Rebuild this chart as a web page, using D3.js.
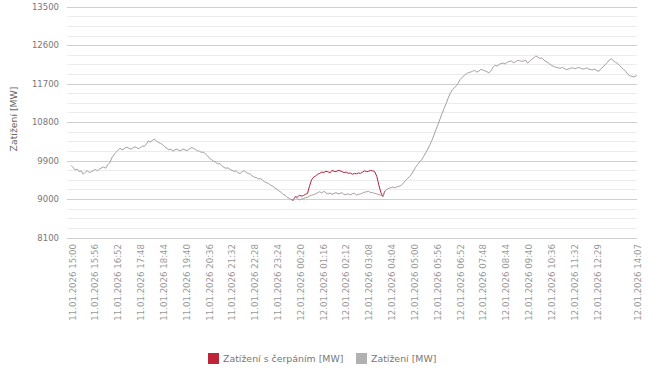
<!DOCTYPE html>
<html>
<head>
<meta charset="utf-8">
<script src="https://cdn.jsdelivr.net/npm/d3@7"></script>
<style>
  html, body { margin: 0; padding: 0; background: #fff; }
  svg { display: block; font-family: "DejaVu Sans", Verdana, sans-serif; }
</style>
</head>
<body>
<svg id="chart" width="654" height="370"></svg>
<script>
// ---- data ----
const startTime = "2026-01-11T15:00";
const endTime = "2026-01-12T14:07";
const sampleStepMin = 5;
// Zatížení [MW], every 5 min from 15:00, last point at 14:07
const loadValues = [
  9790, 9740, 9680, 9700, 9640, 9660, 9580, 9630, 9660, 9620,
  9640, 9670, 9690, 9660, 9700, 9730, 9750, 9720, 9800, 9850,
  9960, 10030, 10090, 10140, 10190, 10150, 10170, 10210, 10200, 10170,
  10180, 10220, 10210, 10180, 10200, 10240, 10230, 10290, 10360, 10330,
  10380, 10400, 10350, 10320, 10300, 10270, 10220, 10190, 10150, 10170,
  10120, 10150, 10170, 10130, 10140, 10170, 10150, 10130, 10170, 10200,
  10190, 10160, 10130, 10120, 10090, 10100, 10050, 10010, 9950, 9920,
  9880, 9860, 9820, 9830, 9780, 9740, 9720, 9730, 9690, 9670,
  9650, 9660, 9610, 9600, 9640, 9660, 9620, 9600, 9580, 9540,
  9510, 9500, 9470, 9480, 9440, 9400, 9380, 9360, 9320, 9300,
  9260, 9230, 9190, 9160, 9110, 9090, 9040, 9020, 8990, 8970,
  9050, 9010, 8980, 9000, 9010, 9030, 9040, 9070, 9090, 9100,
  9120, 9150, 9170, 9140, 9180, 9150, 9120, 9140, 9110, 9130,
  9150, 9120, 9130, 9150, 9100, 9110, 9120, 9100, 9120, 9140,
  9090, 9110, 9120, 9140, 9160, 9170, 9180, 9150, 9150, 9130,
  9120, 9100, 9090, 9060, 9190, 9230, 9250, 9270, 9280, 9260,
  9290, 9300, 9320, 9370, 9430, 9480, 9520, 9580, 9660, 9740,
  9810, 9870, 9920, 10000, 10080, 10170, 10260, 10370, 10490, 10620,
  10740, 10870, 11000, 11120, 11230, 11360, 11470, 11550, 11600, 11650,
  11720, 11800, 11850, 11900, 11930, 11960, 11970, 11990, 12010, 11970,
  11990, 12030, 12020, 12000, 11980, 11950, 12000, 12080, 12130, 12110,
  12150, 12170, 12180, 12160, 12200, 12220, 12230, 12190, 12210, 12240,
  12240, 12220, 12230, 12250, 12180, 12220, 12270, 12300, 12350, 12320,
  12290, 12300, 12250, 12220, 12190, 12150, 12120, 12100, 12080, 12070,
  12060, 12080, 12050, 12030, 12040, 12060, 12070, 12050, 12060, 12080,
  12060, 12040, 12050, 12070, 12040, 12030, 12020, 12040, 12000, 11990,
  12050, 12090, 12140, 12190, 12250, 12280, 12240, 12200, 12180, 12130,
  12080, 12040, 11990, 11930, 11890, 11870, 11860, 11870, 11900
];
// Zatížení s čerpáním [MW], where it differs from Zatížení (from sample index 108)
const pumpStartIndex = 108;
const pumpValues = [
  8990, 8970, 9060, 9040, 9090, 9070, 9080, 9110, 9130, 9300,
  9450, 9510, 9540, 9580, 9600, 9630, 9620, 9650, 9640, 9610,
  9670, 9650, 9640, 9670, 9660, 9640, 9620, 9630, 9600, 9610,
  9580, 9600, 9590, 9610, 9600, 9630, 9660, 9640, 9650, 9670,
  9660, 9640, 9530, 9330, 9150, 9060, 9190
];
const xTickLabels = [
  "11.01.2026 15:00", "11.01.2026 15:56", "11.01.2026 16:52", "11.01.2026 17:48",
  "11.01.2026 18:44", "11.01.2026 19:40", "11.01.2026 20:36", "11.01.2026 21:32",
  "11.01.2026 22:28", "11.01.2026 23:24", "12.01.2026 00:20", "12.01.2026 01:16",
  "12.01.2026 02:12", "12.01.2026 03:08", "12.01.2026 04:04", "12.01.2026 05:00",
  "12.01.2026 05:56", "12.01.2026 06:52", "12.01.2026 07:48", "12.01.2026 08:44",
  "12.01.2026 09:40", "12.01.2026 10:36", "12.01.2026 11:32", "12.01.2026 12:29",
  "12.01.2026 14:07"
];
const yTickValues = [8100, 9000, 9900, 10800, 11700, 12600, 13500];
const seriesNames = ["Zatížení s čerpáním [MW]", "Zatížení [MW]"];
const seriesColors = ["#bf2439", "#b1b1b1"];

// ---- build ----
const parseIso = d3.timeParse("%Y-%m-%dT%H:%M");
const parseLabel = d3.timeParse("%d.%m.%Y %H:%M");
const t0 = parseIso(startTime), t1 = parseIso(endTime);
const times = loadValues.map((v, i) =>
  i === loadValues.length - 1 ? t1 : d3.timeMinute.offset(t0, i * sampleStepMin));
const loadData = loadValues.map((v, i) => ({ t: times[i], v }));
const pumpData = pumpValues.map((v, i) => ({ t: times[pumpStartIndex + i], v }));

const svg = d3.select("#chart");
const x = d3.scaleTime().domain([t0, t1]).range([71, 636.5]);
const y = d3.scaleLinear().domain([8100, 13500]).range([237.5, 6.7]);
const gridX0 = 67, gridX1 = 637;

// grid lines
const minor = d3.range(8100, 13501, 225);
svg.append("g").selectAll("line").data(minor).join("line")
  .attr("x1", gridX0).attr("x2", gridX1)
  .attr("y1", d => Math.round(y(d)) + 0.5).attr("y2", d => Math.round(y(d)) + 0.5)
  .attr("stroke", d => yTickValues.includes(d) ? "#cfcfcf" : "#ececec")
  .attr("stroke-width", 1);

// y axis labels
const yAxis = d3.axisLeft(y).tickValues(yTickValues).tickSize(0).tickPadding(0)
  .tickFormat(d3.format("d"));
const yg = svg.append("g").attr("transform", "translate(59,0)").call(yAxis);
yg.select(".domain").remove();
yg.selectAll("text").attr("fill", "#777").attr("font-size", "8.5px")
  .attr("font-family", "DejaVu Sans, Verdana, sans-serif");

// y title
svg.append("text")
  .attr("transform", "translate(17,119) rotate(-90)")
  .attr("text-anchor", "middle")
  .attr("fill", "#666").attr("font-size", "9.3px")
  .text("Zatížení [MW]");

// x axis labels
const xAxis = d3.axisBottom(x).tickValues(xTickLabels.map(parseLabel))
  .tickSize(0).tickPadding(0).tickFormat(d3.timeFormat("%d.%m.%Y %H:%M"));
const xg = svg.append("g").attr("transform", "translate(1,0)").call(xAxis);
xg.select(".domain").remove();
xg.selectAll("text")
  .attr("transform", "translate(0,244) rotate(-90)")
  .attr("x", 0).attr("y", 0).attr("dy", "0.35em")
  .attr("text-anchor", "end")
  .attr("fill", "#999").attr("font-size", "8.6px")
  .attr("font-family", "DejaVu Sans, Verdana, sans-serif");

// lines
const line = d3.line().x(d => x(d.t)).y(d => y(d.v));
svg.append("path").datum(pumpData).attr("d", line)
  .attr("fill", "none").attr("stroke", "#b3213b").attr("stroke-width", 1);
svg.append("path").datum(loadData).attr("d", line)
  .attr("fill", "none").attr("stroke", "#a79ea2").attr("stroke-width", 1);

// legend
const legendX = [208, 356];
const lg = svg.append("g");
seriesNames.forEach((name, i) => {
  lg.append("rect").attr("x", legendX[i]).attr("y", 353)
    .attr("width", 11).attr("height", 11).attr("fill", seriesColors[i]);
  lg.append("text").attr("x", legendX[i] + 15).attr("y", 358.5)
    .attr("dy", "0.35em").attr("fill", "#777").attr("font-size", "9.4px")
    .text(name);
});
</script>
</body>
</html>
